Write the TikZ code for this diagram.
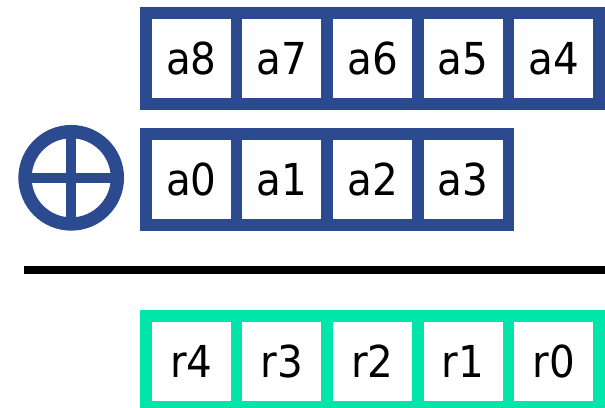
\documentclass[tikz,border=0pt]{standalone}
\usepackage{fontspec}
\setmainfont{DejaVu Sans}[FakeStretch=0.92]
\usetikzlibrary{positioning}
\definecolor{regblue}{HTML}{2C4A90}
\definecolor{resgreen}{HTML}{00E6AA}

\begin{document}
\begin{tikzpicture}[x=1pt, y=-1pt,
    cell/.style={draw=regblue, line width=11.5pt, minimum size=90.6pt, inner sep=0pt, outer sep=0pt, font=\fontsize{44}{52}\selectfont},
    rescell/.style={cell, draw=resgreen},
    xorline/.style={draw=regblue, line width=10pt}]

    \useasboundingbox (0,0) rectangle (605,407);

    % first operand
    \node(A8)[cell] at (191.3,58.5){a8};
    \node(A7)[cell, right=0pt of A8]{a7};
    \node(A6)[cell, right=0pt of A7]{a6};
    \node(A5)[cell, right=0pt of A6]{a5};
    \node(A4)[cell, right=0pt of A5]{a4};

    % second operand
    \node(A0)[cell] at (191.3,179.5){a0};
    \node(A1)[cell, right=0pt of A0]{a1};
    \node(A2)[cell, right=0pt of A1]{a2};
    \node(A3)[cell, right=0pt of A2]{a3};

    % xor sign
    \node(X)[draw=regblue, circle, line width=13.3pt, minimum size=92.4pt, outer sep=0pt] at (71.2,177.8){};
    \draw[xorline] (X.north) -- (X.south);
    \draw[xorline] (X.west) -- (X.east);

    \coordinate(L1) at (24,270);
    \coordinate(L2) at (605,270);
    \draw[line width=8.5pt] (L1) -- (L2);

    % result
    \node(R4)[rescell] at (191.3,361.3){r4};
    \node(R3)[rescell, right=0pt of R4]{r3};
    \node(R2)[rescell, right=0pt of R3]{r2};
    \node(R1)[rescell, right=0pt of R2]{r1};
    \node(R0)[rescell, right=0pt of R1]{r0};

\end{tikzpicture}
\end{document}
